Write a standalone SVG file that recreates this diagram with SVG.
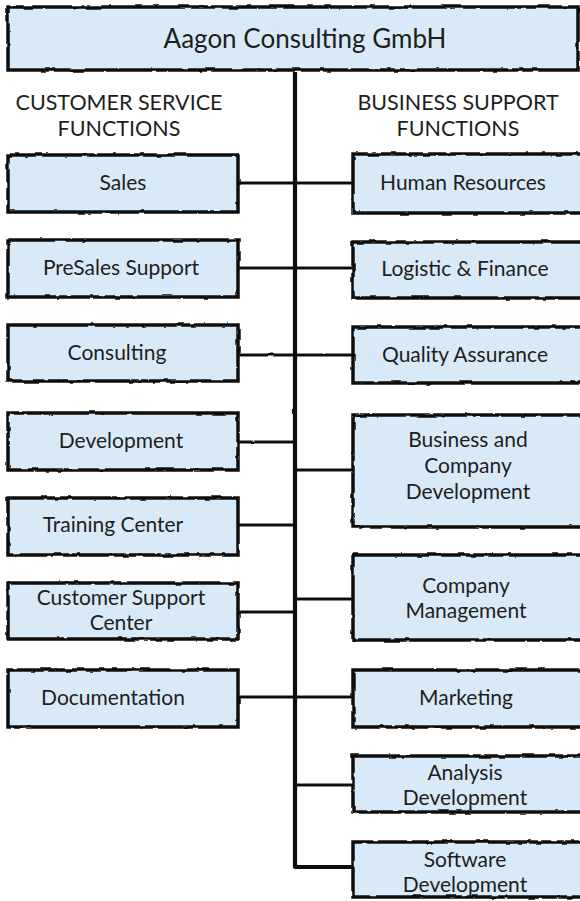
<svg xmlns="http://www.w3.org/2000/svg" width="580" height="901" viewBox="0 0 580 901">
<style>
.box{fill:#d8eaf8;stroke:#111;stroke-width:3.5;filter:url(#rough)}
.lbl{font-family:Lato,"Open Sans",sans-serif;font-size:21px;fill:#1e1e1e;text-anchor:middle}
.hdr{font-family:Lato,"Open Sans",sans-serif;font-size:21.5px;fill:#1e1e1e;text-anchor:middle}
.ttl{font-family:Lato,"Open Sans",sans-serif;font-size:26px;fill:#1e1e1e;text-anchor:middle}
.con{fill:none;stroke:#111;stroke-width:3.2;stroke-linejoin:round;filter:url(#rough2)}
.trunk{fill:none;stroke:#111;stroke-width:4.2;stroke-linejoin:round;filter:url(#rough2)}
</style>
<defs>
<filter id="rough" filterUnits="userSpaceOnUse" x="0" y="0" width="580" height="901">
<feTurbulence type="fractalNoise" baseFrequency="0.08" numOctaves="2" seed="3" result="n"/>
<feDisplacementMap in="SourceGraphic" in2="n" scale="3" xChannelSelector="R" yChannelSelector="G"/>
</filter>
<filter id="rough2" filterUnits="userSpaceOnUse" x="0" y="0" width="580" height="901">
<feTurbulence type="fractalNoise" baseFrequency="0.06" numOctaves="2" seed="7" result="n"/>
<feDisplacementMap in="SourceGraphic" in2="n" scale="1.6" xChannelSelector="R" yChannelSelector="G"/>
</filter>
</defs>
<rect width="580" height="901" fill="#fff"/>
<g id="connectors">
<path class="trunk" d="M295 72 V867 H353"/>
<path class="con" d="M238 183 H353"/>
<path class="con" d="M238 268 H353"/>
<path class="con" d="M238 355 H353"/>
<path class="con" d="M238 442 H295"/>
<path class="con" d="M295 470 H353"/>
<path class="con" d="M238 525 H295"/>
<path class="con" d="M295 599 H353"/>
<path class="con" d="M238 612 H295"/>
<path class="con" d="M238 697 H353"/>
<path class="con" d="M295 785 H353"/>
</g>
<g id="root"><rect class="box" x="8" y="7" width="570" height="63"/><text class="ttl" x="305" y="48">Aagon Consulting GmbH</text></g>
<g id="hdr-left"><text class="hdr" x="119" y="110">CUSTOMER SERVICE</text><text class="hdr" x="119" y="136">FUNCTIONS</text></g>
<g id="hdr-right"><text class="hdr" x="458" y="110">BUSINESS SUPPORT</text><text class="hdr" x="458" y="136">FUNCTIONS</text></g>
<g id="sales"><rect class="box" x="8" y="155" width="230" height="57"/><text class="lbl" x="123" y="190">Sales</text></g>
<g id="presales"><rect class="box" x="8" y="240" width="230" height="57"/><text class="lbl" x="121" y="275">PreSales Support</text></g>
<g id="consulting"><rect class="box" x="8" y="325" width="230" height="56"/><text class="lbl" x="117" y="360">Consulting</text></g>
<g id="development"><rect class="box" x="8" y="413" width="230" height="57"/><text class="lbl" x="121" y="448">Development</text></g>
<g id="training"><rect class="box" x="8" y="498" width="230" height="57"/><text class="lbl" x="113" y="532">Training Center</text></g>
<g id="customer-support"><rect class="box" x="8" y="583" width="230" height="56"/><text class="lbl" x="121" y="605">Customer Support</text><text class="lbl" x="121" y="630">Center</text></g>
<g id="documentation"><rect class="box" x="8" y="670" width="230" height="57"/><text class="lbl" x="113" y="705">Documentation</text></g>
<g id="hr"><rect class="box" x="353" y="154" width="232" height="59"/><text class="lbl" x="463" y="190">Human Resources</text></g>
<g id="logistic"><rect class="box" x="353" y="242" width="232" height="56"/><text class="lbl" x="465" y="276">Logistic &amp; Finance</text></g>
<g id="qa"><rect class="box" x="353" y="327" width="232" height="56"/><text class="lbl" x="465" y="362">Quality Assurance</text></g>
<g id="bizdev"><rect class="box" x="353" y="415" width="232" height="112"/><text class="lbl" x="468" y="447">Business and</text><text class="lbl" x="468" y="473">Company</text><text class="lbl" x="468" y="499">Development</text></g>
<g id="mgmt"><rect class="box" x="353" y="555" width="232" height="85"/><text class="lbl" x="466" y="593">Company</text><text class="lbl" x="466" y="618">Management</text></g>
<g id="marketing"><rect class="box" x="353" y="670" width="232" height="57"/><text class="lbl" x="466" y="705">Marketing</text></g>
<g id="analysis"><rect class="box" x="353" y="756" width="232" height="56"/><text class="lbl" x="465" y="780">Analysis</text><text class="lbl" x="465" y="805">Development</text></g>
<g id="software"><rect class="box" x="353" y="842" width="232" height="55"/><text class="lbl" x="465" y="867">Software</text><text class="lbl" x="465" y="892">Development</text></g>
</svg>
